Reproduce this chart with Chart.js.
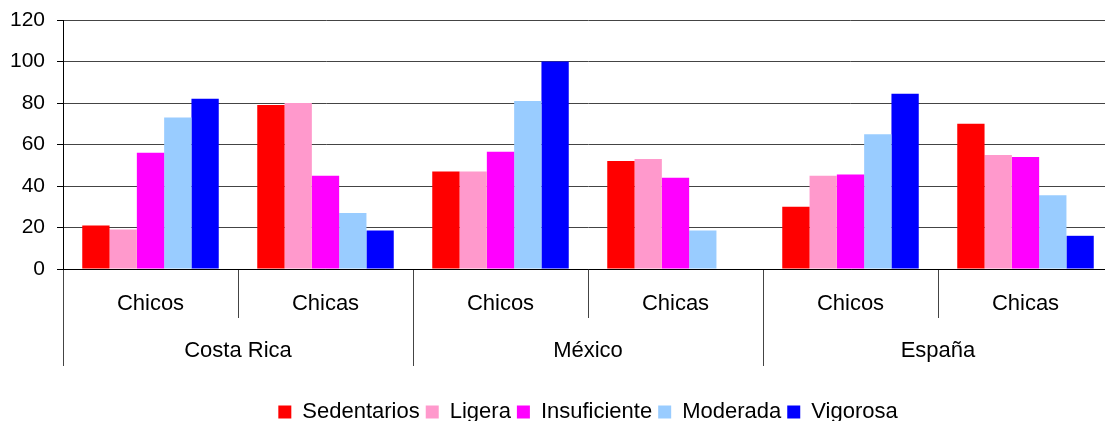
<!DOCTYPE html>
<html>
<head>
<meta charset="utf-8">
<script src="https://cdn.jsdelivr.net/npm/chart.js@4"></script>
<style>
  html, body { margin: 0; padding: 0; background: #fff; overflow: hidden; }
  /* the source chart is slightly cut off at the right and bottom edges */
  #wrap { width: 1113px; height: 433px; }
</style>
</head>
<body>
<div id="wrap"><canvas id="barChart"></canvas></div>
<script>
const groups = ['Chicos', 'Chicas', 'Chicos', 'Chicas', 'Chicos', 'Chicas'];
const countries = ['Costa Rica', 'México', 'España'];
const yTicks = [0, 20, 40, 60, 80, 100, 120];

const sedentarios = [21, 79, 47, 52, 30, 70];
const ligera = [19, 80, 47, 53, 45, 55];
const insuficiente = [56, 45, 56.5, 44, 45.5, 54];
const moderada = [73, 27, 81, 18.5, 65, 35.5];
const vigorosa = [82, 18.5, 100, 0, 84.5, 16];

const font = 'Liberation Sans, Arial, sans-serif';

new Chart('barChart', {
  type: 'bar',
  data: {
    labels: groups,
    datasets: [
      { label: 'Sedentarios', data: sedentarios, backgroundColor: '#FF0000' },
      { label: 'Ligera', data: ligera, backgroundColor: '#FF99CC' },
      { label: 'Insuficiente', data: insuficiente, backgroundColor: '#FF00FF' },
      { label: 'Moderada', data: moderada, backgroundColor: '#99CCFF' },
      { label: 'Vigorosa', data: vigorosa, backgroundColor: '#0000FF' }
    ]
  },
  options: {
    responsive: true,
    maintainAspectRatio: false,
    animation: false,
    categoryPercentage: 0.78,
    barPercentage: 1,
    layout: { padding: { top: 20, right: 0, bottom: 0, left: 0 } },
    scales: {
      y: {
        min: 0,
        max: 120,
        afterBuildTicks: axis => { axis.ticks = yTicks.map(v => ({ value: v })); },
        afterFit: axis => {
          axis.width = 63;
          axis.paddingTop = 0;
          axis.paddingBottom = 0;
        },
        border: { color: '#000', width: 1 },
        grid: { color: '#444', lineWidth: 1, tickLength: 6, tickColor: '#000' },
        ticks: { color: '#000', padding: 12, font: { family: font, size: 21 } }
      },
      x: {
        weight: 0,
        afterFit: axis => { axis.height = 49; },
        border: { color: '#000', width: 1 },
        grid: { offset: true, drawOnChartArea: false, tickLength: 49, tickColor: '#444' },
        ticks: { color: '#000', padding: -27, font: { family: font, size: 22 } }
      },
      x2: {
        type: 'category',
        position: 'bottom',
        weight: 1,
        labels: countries,
        afterFit: axis => { axis.height = 77; },
        border: { display: false },
        grid: { offset: true, drawOnChartArea: false, tickLength: 48, tickColor: '#444' },
        ticks: { color: '#000', padding: -28, font: { family: font, size: 22 } }
      }
    },
    plugins: {
      tooltip: { enabled: false },
      legend: {
        position: 'bottom',
        fullSize: false,
        labels: {
          color: '#000',
          boxWidth: 13,
          boxHeight: 13,
          padding: 6,
          font: { family: font, size: 22 }
        }
      }
    }
  }
});
</script>
</body>
</html>
